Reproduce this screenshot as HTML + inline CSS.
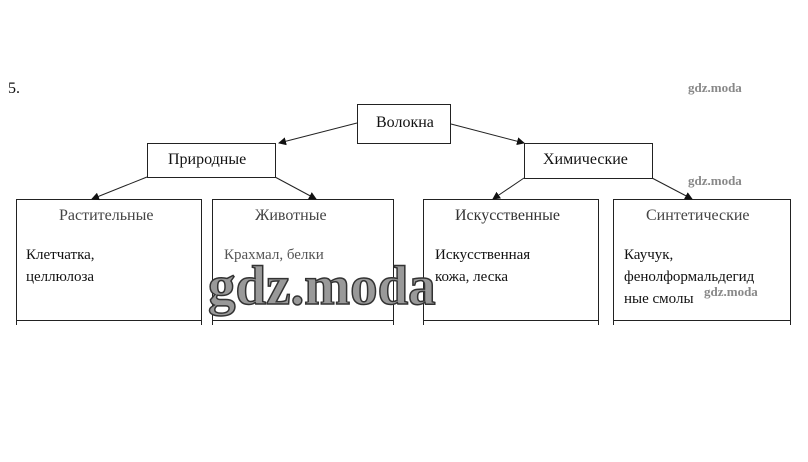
<!DOCTYPE html>
<html><head><meta charset="utf-8"><style>
body{margin:0;width:808px;height:462px;background:#fff;position:relative;overflow:hidden;font-family:"Liberation Serif","DejaVu Serif",serif;color:#111}
.b{position:absolute;border:1px solid #222;box-sizing:border-box}
.t{position:absolute;font-size:16px;white-space:nowrap}
.c{position:absolute;font-size:15px;line-height:22px}
.w{position:absolute;font-weight:bold;color:#888;font-size:13px}
.s{position:absolute;width:1px;background:#222;top:315px;height:10px}
</style></head><body>
<div class="t" style="left:8px;top:80px;font-size:16px">5.</div>
<div class="b" style="left:357px;top:104px;width:94px;height:40px"></div>
<div class="t" style="left:376px;top:114px">Волокна</div>
<div class="b" style="left:147px;top:143px;width:129px;height:35px"></div>
<div class="t" style="left:168px;top:151px">Природные</div>
<div class="b" style="left:524px;top:143px;width:129px;height:36px"></div>
<div class="t" style="left:543px;top:151px">Химические</div>

<div class="b" style="left:16px;top:199px;width:186px;height:122px"></div>
<div class="b" style="left:212px;top:199px;width:182px;height:122px"></div>
<div class="b" style="left:423px;top:199px;width:176px;height:122px"></div>
<div class="b" style="left:613px;top:199px;width:178px;height:122px"></div>
<div class="s" style="left:16px"></div><div class="s" style="left:201px"></div>
<div class="s" style="left:212px"></div><div class="s" style="left:393px"></div>
<div class="s" style="left:423px"></div><div class="s" style="left:598px"></div>
<div class="s" style="left:613px"></div><div class="s" style="left:790px"></div>

<div class="t" style="left:59px;top:207px;color:#444">Растительные</div>
<div class="t" style="left:255px;top:207px;color:#444">Животные</div>
<div class="t" style="left:455px;top:207px;color:#333">Искусственные</div>
<div class="t" style="left:646px;top:207px;color:#444">Синтетические</div>

<div class="c" style="left:26px;top:244px">Клетчатка,<br>целлюлоза</div>
<div class="c" style="left:224px;top:244px;color:#555">Крахмал, белки</div>
<div class="c" style="left:435px;top:244px">Искусственная<br>кожа, леска</div>
<div class="c" style="left:624px;top:244px">Каучук,<br>фенолформальдегид<br>ные смолы</div>

<svg width="808" height="462" style="position:absolute;left:0;top:0">
<defs><marker id="a" markerWidth="8" markerHeight="8" refX="7" refY="4" orient="auto" markerUnits="userSpaceOnUse"><path d="M0,0L8,4L0,8z" fill="#111"/></marker></defs>
<g stroke="#222" stroke-width="1" marker-end="url(#a)">
<line x1="357" y1="123" x2="279" y2="143"/>
<line x1="451" y1="124" x2="524" y2="143"/>
<line x1="147" y1="177" x2="92" y2="199"/>
<line x1="275" y1="177" x2="316" y2="199"/>
<line x1="524" y1="178" x2="493" y2="199"/>
<line x1="652" y1="178" x2="692" y2="199"/>
</g>
</svg>
<div style="position:absolute;left:208px;top:254px;font-size:55px;font-weight:bold;color:#999;-webkit-text-stroke:1.5px #333;font-family:'Liberation Serif',serif;letter-spacing:0px">gdz.moda</div>
<div class="w" style="left:688px;top:80px">gdz.moda</div>
<div class="w" style="left:688px;top:173px">gdz.moda</div>
<div class="w" style="left:704px;top:284px">gdz.moda</div>
</body></html>
